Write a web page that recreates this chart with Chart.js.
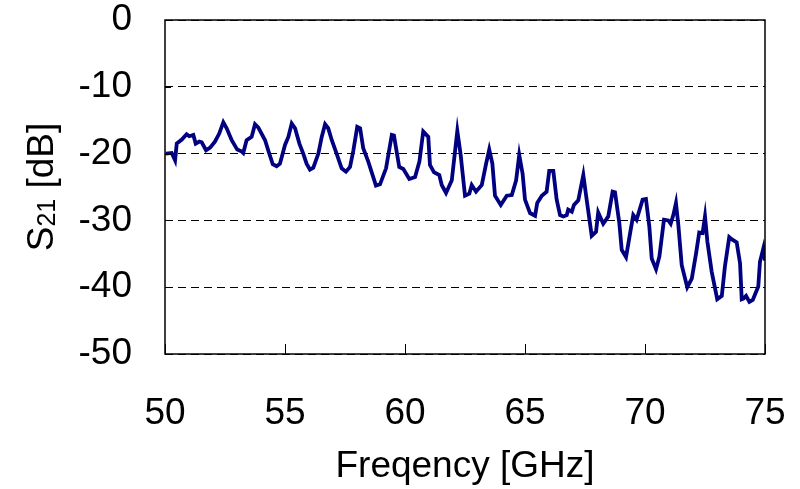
<!DOCTYPE html>
<html>
<head>
<meta charset="utf-8">
<script src="https://cdn.jsdelivr.net/npm/chart.js@4"></script>
<style>
  body { margin: 0; background: #fff; }
</style>
</head>
<body>
<canvas id="chart" width="800" height="489"></canvas>
<script>
const freq = [
    50.04, 50.28, 50.42, 50.49, 50.70, 50.90, 51.01, 51.18, 51.28, 51.43, 51.53, 51.71, 51.88, 52.08, 52.26,
    52.43, 52.57, 52.78, 53.01, 53.20, 53.26, 53.40, 53.61, 53.75, 53.89,
    54.17, 54.30, 54.49, 54.65, 54.79, 55.00, 55.14, 55.28, 55.42, 55.60, 55.76, 55.90, 56.04, 56.18, 56.39,
    56.53, 56.67, 56.80, 56.95, 57.15, 57.36, 57.54, 57.71, 57.85, 58.01, 58.13,
    58.26, 58.47, 58.79, 58.96, 59.21, 59.45, 59.54, 59.76, 59.93, 60.18, 60.42, 60.60, 60.76, 60.97, 61.04,
    61.21, 61.43, 61.53, 61.71, 61.95, 62.18, 62.32,
    62.50, 62.68, 62.78, 62.96, 63.20, 63.38, 63.51, 63.64, 63.75, 63.99, 64.24, 64.45, 64.63, 64.76, 64.90,
    65.00, 65.21, 65.42, 65.51, 65.70, 65.90, 66.01, 66.18, 66.32, 66.46,
    66.60, 66.74, 66.80, 66.95, 67.04, 67.22, 67.43, 67.57, 67.78, 67.96, 68.05, 68.26, 68.47, 68.65, 68.75,
    68.93, 69.03, 69.21, 69.38, 69.51, 69.65, 69.90, 70.04, 70.18, 70.28, 70.46, 70.60,
    70.79, 70.97, 71.07, 71.18, 71.29, 71.39, 71.53, 71.76, 71.95, 72.13, 72.26, 72.40, 72.50, 72.60, 72.78,
    73.01, 73.20, 73.33, 73.51, 73.61, 73.82, 73.96, 74.03, 74.10, 74.21, 74.35, 74.49, 74.72, 74.79, 74.93, 75.00
];
const s21 = [
    -20.0, -19.9, -21.0, -18.5, -17.9, -17.1, -17.4, -17.2, -18.5, -18.2, -18.3, -19.5, -19.1, -18.2, -17.0,
    -15.3, -16.2, -18.0, -19.4, -19.7, -19.9, -18.0, -17.5, -15.6, -16.1,
    -18.0, -19.5, -21.6, -21.9, -21.5, -18.7, -17.5, -15.5, -16.2, -18.5, -20.0, -21.5, -22.4, -22.1, -20.0,
    -17.5, -15.6, -16.2, -18.0, -20.0, -22.2, -22.7, -22.0, -19.5, -16.0, -16.2,
    -19.2, -21.2, -24.8, -24.6, -22.2, -17.2, -17.3, -22.0, -22.3, -23.8, -23.5, -21.2, -16.7, -17.5, -21.7,
    -22.8, -23.2, -24.7, -25.9, -24.0, -16.6, -20.2,
    -26.3, -26.0, -24.7, -25.7, -24.7, -21.5, -19.4, -21.5, -26.3, -27.7, -26.3, -26.2, -24.0, -20.2, -23.0,
    -26.9, -28.9, -29.3, -27.4, -26.3, -25.7, -22.6, -22.6, -26.9, -29.2,
    -29.4, -29.2, -28.4, -28.7, -27.7, -27.0, -23.2, -26.9, -32.3, -31.7, -28.8, -30.5, -29.4, -25.7, -25.8,
    -30.4, -34.4, -35.5, -31.9, -29.2, -29.9, -26.9, -26.8, -30.9, -35.7, -37.3, -35.4,
    -29.9, -30.0, -30.5, -29.2, -27.4, -30.7, -36.7, -40.0, -38.7, -34.9, -31.8, -31.9, -29.4, -33.2, -37.7,
    -41.8, -41.3, -36.9, -32.5, -32.8, -33.3, -36.4, -41.8, -41.7, -41.3, -42.2, -41.9, -39.9, -36.2, -34.2, -36.0
];
const xTicks = [50, 55, 60, 65, 70, 75];
const yTicks = [0, -10, -20, -30, -40, -50];

const FONT = "'Liberation Sans', Arial, sans-serif";

// box round the plot, inward tick marks, and the S21 title with its subscript
const frame = {
    id: "frame",
    afterDraw(chart) {
        const { ctx, chartArea: a, scales } = chart;
        ctx.save();
        ctx.strokeStyle = "#000";
        ctx.lineWidth = 1.5;
        ctx.strokeRect(a.left, a.top, a.right - a.left, a.bottom - a.top);
        ctx.lineWidth = 1;
        ctx.beginPath();
        xTicks.forEach((v) => {
            const px = Math.round(scales.x.getPixelForValue(v)) + 0.5;
            ctx.moveTo(px, a.bottom);
            ctx.lineTo(px, a.bottom - 10);
        });
        yTicks.forEach((v) => {
            const py = Math.round(scales.y.getPixelForValue(v)) + 0.5;
            ctx.moveTo(a.left, py);
            ctx.lineTo(a.left + 6, py);
        });
        ctx.stroke();

        // y title: S21 [dB], rotated
        ctx.translate(40, (a.top + a.bottom) / 2);
        ctx.rotate(-Math.PI / 2);
        ctx.fillStyle = "#000";
        ctx.textBaseline = "alphabetic";
        const big = "37px " + FONT;
        const small = "25px " + FONT;
        ctx.font = big;
        const wS = ctx.measureText("S").width;
        const wT = ctx.measureText(" [dB]").width;
        ctx.font = small;
        const w21 = ctx.measureText("21").width;
        let x = -(wS + w21 + wT) / 2;
        const base = 13;
        ctx.font = big;
        ctx.fillText("S", x, base);
        x += wS;
        ctx.font = small;
        ctx.fillText("21", x, base + 2);
        x += w21;
        ctx.font = big;
        ctx.fillText(" [dB]", x, base);
        ctx.restore();
    },
};

new Chart(document.getElementById("chart"), {
    type: "line",
    data: {
        datasets: [
            {
                data: freq.map((f, i) => ({ x: f, y: s21[i] })),
                borderColor: "#000080",
                borderWidth: 3.8,
                pointRadius: 0,
                tension: 0,
                fill: false,
            },
        ],
    },
    options: {
        responsive: false,
        animation: false,
        layout: { padding: { top: 20, right: 35, left: 0, bottom: 0 } },
        plugins: {
            legend: { display: false },
            tooltip: { enabled: false },
        },
        scales: {
            x: {
                type: "linear",
                min: 50,
                max: 75,
                afterBuildTicks: (s) => { s.ticks = xTicks.map((v) => ({ value: v })); },
                afterFit: (s) => {
                    s.height = 135;
                    s.paddingLeft = 0;
                    s.paddingRight = 0;
                },
                grid: { display: false, drawTicks: false },
                border: { display: false },
                ticks: {
                    color: "#000",
                    padding: 41,
                    maxRotation: 0,
                    font: { family: FONT, size: 37, lineHeight: 1 },
                },
                title: {
                    display: true,
                    text: "Freqency [GHz]",
                    color: "#000",
                    padding: { top: 0, bottom: 4 },
                    font: { family: FONT, size: 37, lineHeight: 1 },
                },
            },
            y: {
                min: -50,
                max: 0,
                afterBuildTicks: (s) => { s.ticks = yTicks.map((v) => ({ value: v })); },
                afterFit: (s) => {
                    s.width = 165;
                    s.paddingTop = 0;
                    s.paddingBottom = 0;
                },
                grid: { color: "#000", lineWidth: 1, drawTicks: false },
                border: { display: false, dash: [8, 5] },
                ticks: {
                    color: "#000",
                    padding: 33,
                    font: { family: FONT, size: 37, lineHeight: 1 },
                },
            },
        },
    },
    plugins: [frame],
});
</script>
</body>
</html>
